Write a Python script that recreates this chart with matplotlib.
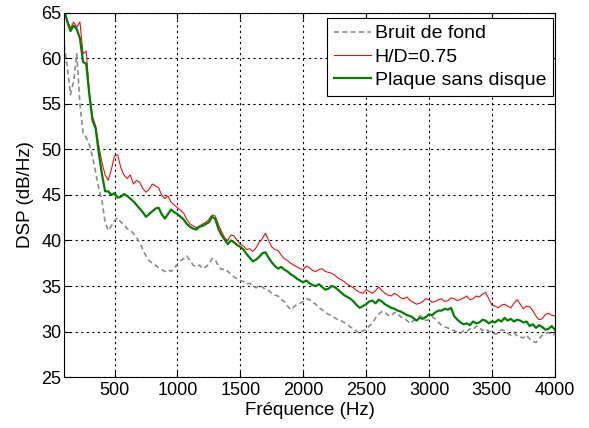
import numpy as np
import matplotlib
matplotlib.use("Agg")
import matplotlib.pyplot as plt

# frequency grid (Hz), 25 Hz steps
freq = np.arange(100, 4001, 25)

bruit = [61.5, 59.0, 56.0, 57.5, 60.5, 55.0, 51.8, 51.3, 50.5, 49.2, 47.5, 45.7, 44.4, 42.0, 41.1, 41.6,
         42.2, 42.5, 42.0, 41.8, 41.3, 41.1, 40.8, 40.3, 39.8, 39.0,
         38.3, 37.8, 37.5, 37.3, 37.0, 36.8, 36.6, 36.8, 36.6, 37.0,
         37.4, 37.8, 38.0, 38.3, 37.8, 37.3, 37.1, 37.3, 36.9, 37.1,
         37.4, 38.0, 37.9, 37.2, 36.8, 36.9, 36.6, 36.3, 36.0, 35.8,
         35.6, 35.5, 35.2, 35.3, 35.0, 34.8, 35.1, 34.9, 34.6, 34.5,
         34.2, 34.0, 33.9, 33.5, 33.3, 32.8, 32.4, 32.7, 33.0, 33.1,
         33.3, 33.6, 33.5, 33.2, 33.0, 32.6, 32.4, 32.1, 31.9, 31.7,
         31.5, 31.3, 31.2, 31.0, 30.8, 30.5, 30.3, 30.0, 29.8, 30.1,
         30.2, 30.6, 30.9, 31.5, 31.9, 32.2, 32.1, 31.8, 31.7, 32.1,
         32.0, 31.6, 31.5, 31.2, 30.9, 31.2, 31.4, 31.7, 31.6, 31.2,
         31.3, 31.6, 31.4, 31.0, 30.7, 30.5, 30.4, 30.2, 30.1, 29.9,
         29.8, 30.1, 30.0, 30.3, 30.2, 30.6, 30.5, 30.1, 30.3, 30.0,
         30.0, 29.7, 29.8, 30.2, 30.1, 29.8, 29.6, 29.9, 29.5, 29.4,
         29.3, 29.6, 29.2, 28.9, 28.8, 29.2, 29.6, 29.8, 29.9, 29.6,
         29.7]

hd075 = [65.3, 64.2, 63.3, 64.0, 63.4, 64.0, 60.5, 60.8, 56.3, 53.6, 52.6, 50.4, 48.6, 47.2, 46.6, 47.8,
         49.3, 49.4, 48.0, 47.2, 46.8, 47.2, 46.2, 46.6, 46.4, 45.7,
         45.3, 45.6, 46.2, 46.0, 45.8, 45.0, 44.6, 44.9, 44.2, 43.9,
         43.6, 43.3, 43.0, 42.3, 41.8, 41.6, 41.4, 41.6, 41.8, 42.0,
         42.3, 42.8, 42.7, 41.8, 41.0, 40.3, 40.0, 40.6, 40.5, 40.0,
         39.6, 39.4, 39.0, 39.1, 38.8, 39.2, 39.8, 40.2, 40.8, 40.0,
         39.3, 39.0, 38.9, 38.4, 38.0, 37.8, 37.5, 37.3, 37.1, 36.9,
         36.8, 37.2, 37.0, 36.7, 36.6, 36.8, 36.9, 36.6, 36.5, 36.4,
         36.2, 35.9, 35.7, 35.5, 35.2, 35.0, 34.8, 34.5, 34.3, 34.2,
         34.6, 34.4, 34.2, 34.5, 34.9, 34.5, 34.2, 34.0, 33.9, 34.2,
         34.0, 33.7, 33.6, 33.8, 33.4, 33.2, 33.0, 33.1, 33.3, 33.6,
         33.5, 33.2, 33.3, 33.5, 33.6, 33.3, 33.4, 33.7, 33.6, 33.4,
         33.5, 33.7, 33.9, 33.5, 33.6, 33.9, 33.8, 34.1, 34.3, 33.6,
         32.9, 32.8, 32.6, 32.9, 33.0, 32.8, 32.6, 33.1, 33.5, 33.0,
         32.5, 32.8, 32.7, 32.3, 31.7, 31.3, 31.4, 31.9, 32.0, 31.8,
         31.7]

plaque = [65.3, 64.0, 63.0, 63.6, 63.2, 62.2, 59.6, 59.4, 56.0, 53.2, 52.3, 49.6, 47.3, 45.4, 45.4, 45.0,
          45.2, 44.7, 44.8, 45.1, 44.9, 44.6, 44.3, 43.9, 43.5, 43.1,
          42.6, 42.9, 43.2, 43.5, 43.6, 42.9, 42.4, 42.9, 43.4, 43.1,
          42.9, 42.6, 42.3, 41.8, 41.5, 41.3, 41.2, 41.5, 41.6, 41.8,
          42.0, 42.6, 42.4, 41.3, 40.6, 40.1, 39.6, 40.0, 39.8, 39.5,
          39.3, 39.0, 38.5, 38.1, 37.7, 37.9, 38.2, 38.6, 38.7, 38.1,
          37.6, 37.2, 36.9, 37.1, 36.8, 36.6, 36.3, 36.1, 35.8, 35.6,
          35.4, 35.6, 35.3, 35.1, 35.0, 35.2, 34.9, 34.6, 34.7, 35.0,
          34.9, 34.6, 34.3, 34.0, 33.8, 33.6, 33.3, 32.9, 32.6, 32.8,
          33.0, 33.3, 33.4, 33.1, 33.5, 33.3, 33.0, 32.8, 32.6, 32.5,
          32.3, 32.2, 32.0, 31.8, 31.7, 31.5, 31.2, 31.5, 31.4, 31.6,
          31.9, 31.8, 32.1, 32.3, 32.3, 32.5, 32.4, 32.6, 31.7, 31.3,
          31.0, 30.8, 30.9, 30.7, 31.1, 30.9, 31.0, 31.3, 31.2, 30.9,
          31.1, 31.0, 31.3, 31.1, 31.5, 31.2, 31.4, 31.1, 31.3, 31.2,
          31.0, 31.1, 30.6, 30.8, 30.4, 30.7, 30.5, 30.2, 30.3, 30.6,
          30.2]

plt.rcParams['font.family'] = ['Liberation Sans', 'DejaVu Sans']

fig = plt.figure(figsize=(5.89, 4.28), dpi=100)
ax = fig.add_axes([0.109, 0.119, 0.833, 0.851])

ax.plot(freq, bruit, color='#8c8c8c', lw=1.2, dashes=(3, 2), label='Bruit de fond')
ax.plot(freq, hd075, '-', color='#ff0000', lw=0.75, label='H/D=0.75')
ax.plot(freq, plaque, '-', color='#008000', lw=1.6, label='Plaque sans disque')

ax.set_xlim(100, 4000)
ax.set_ylim(25, 65)
ax.set_xticks(range(500, 4001, 500))
ax.set_yticks(range(25, 66, 5))
ax.grid(True, linestyle=(0, (2, 3)), color='black', lw=0.8)
ax.tick_params(direction='in', top=True, right=True, labelsize=13, length=4)
ax.tick_params(axis='y', pad=2)
for s in ax.spines.values():
    s.set_linewidth(0.8)

ax.set_xlabel('Fréquence (Hz)', fontsize=13.5, labelpad=2)
ax.set_ylabel('DSP (dB/Hz)', fontsize=13.5, labelpad=5)

leg = ax.legend(loc='upper right', bbox_to_anchor=(0.996, 0.986), borderaxespad=0,
                fontsize=14, frameon=True, fancybox=False, edgecolor='black',
                framealpha=1, handlelength=1.9, handletextpad=0.2,
                borderpad=0.35, labelspacing=0.3)
leg.get_frame().set_linewidth(0.8)

fig.savefig('out.png', dpi=100)
